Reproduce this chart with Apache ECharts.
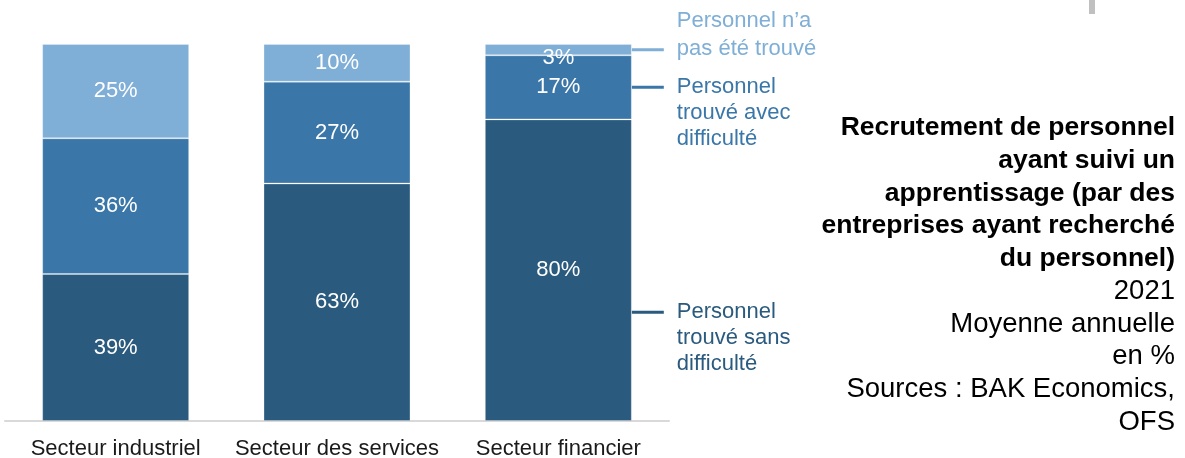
<!DOCTYPE html>
<html>
<head>
<meta charset="utf-8">
<script src="https://cdn.jsdelivr.net/npm/echarts@6/dist/echarts.min.js"></script>
<style>
  html, body { margin: 0; padding: 0; background: #fff; }
  #chart { width: 1185px; height: 458px; }
</style>
</head>
<body>
<div id="chart"></div>
<script>
// données
const categories = ['Secteur industriel', 'Secteur des services', 'Secteur financier'];
const sansDifficulte = [39, 63, 80];
const avecDifficulte = [36, 27, 17];
const pasTrouve = [25, 10, 3];

const seriesNames = [
    'Personnel\ntrouvé sans\ndifficulté',
    'Personnel\ntrouvé avec\ndifficulté',
    'Personnel n’a\npas été trouvé'
];
const titleText = 'Recrutement de personnel\nayant suivi un\napprentissage (par des\nentreprises ayant recherché\ndu personnel)';
const subText = '2021\nMoyenne annuelle\nen %\nSources : BAK Economics,\nOFS';

const colors = ['#2a5a7e', '#3a77a8', '#7faed6'];
const FONT = '"Liberation Sans", Arial, sans-serif';

const myChart = echarts.init(document.getElementById('chart'));

const barLabel = {
    show: true,
    position: 'inside',
    formatter: '{c}%',
    color: '#ffffff',
    fontFamily: FONT,
    fontSize: 22
};

// les petites valeurs ont leur étiquette un peu décalée vers le bas
const toItems = (data) => data.map(v => (v < 5 ? { value: v, label: { offset: [0, 8] } } : v));

const makeSeries = (name, data, color) => ({
    name: name,
    type: 'bar',
    stack: 'total',
    barWidth: '66.4%',
    data: toItems(data),
    label: barLabel,
    itemStyle: {
        color: color,
        borderColor: 'rgba(255,255,255,0.25)',
        borderWidth: 1
    },
    emphasis: { disabled: true }
});

const option = {
    animation: false,
    grid: {
        left: 5,
        right: 516,
        top: 44,
        bottom: 37,
        outerBoundsMode: 'none'
    },
    xAxis: {
        type: 'category',
        data: categories,
        axisTick: { show: false },
        axisLine: { lineStyle: { color: '#d9d9d9', width: 2 } },
        axisLabel: {
            interval: 0,
            hideOverlap: false,
            color: '#1a1a1a',
            fontFamily: FONT,
            fontSize: 22,
            margin: 17
        }
    },
    yAxis: {
        type: 'value',
        min: 0,
        max: 100,
        show: false
    },
    series: [
        makeSeries(seriesNames[0], sansDifficulte, colors[0]),
        makeSeries(seriesNames[1], avecDifficulte, colors[1]),
        makeSeries(seriesNames[2], pasTrouve, colors[2])
    ]
};

myChart.setOption(option);

// étiquettes à droite de la dernière barre + titre
const drawSideLabels = () => {
    const last = categories.length - 1;
    const c0 = myChart.convertToPixel({ gridIndex: 0 }, [0, 0])[0];
    const c1 = myChart.convertToPixel({ gridIndex: 0 }, [1, 0])[0];
    const cLast = myChart.convertToPixel({ gridIndex: 0 }, [last, 0])[0];
    const barRight = cLast + (c1 - c0) * 0.332;

    const stacks = [sansDifficulte, avecDifficulte, pasTrouve];
    const lineShift = [42, 0, 0];   // décalage du trait par rapport au centre
    const textShift = [0, 0, -29];  // position de la première ligne
    const lineH = [26, 26, 28];
    const clip = [117, 117, null];
    const elements = [];
    let base = 0;
    stacks.forEach((arr, i) => {
        const mid = base + arr[last] / 2;
        base += arr[last];
        const y = myChart.convertToPixel({ gridIndex: 0 }, [last, mid])[1] + lineShift[i];
        elements.push({
            type: 'line',
            shape: { x1: barRight, y1: y, x2: barRight + 32, y2: y },
            style: { stroke: colors[i], lineWidth: 3 }
        });
        const style = {
            text: seriesNames[i],
            x: barRight + 45,
            y: y + textShift[i] - lineH[i] / 2,
            fill: colors[i],
            font: '22px ' + FONT,
            lineHeight: lineH[i],
            verticalAlign: 'top'
        };
        if (clip[i]) {
            style.width = clip[i];
            style.overflow = 'truncate';
            style.ellipsis = '';
        }
        elements.push({ type: 'text', style: style });
    });

    // titre à droite
    const lh = 32.7;
    elements.push({
        type: 'text',
        style: {
            text: titleText,
            x: 1175,
            y: 128 - lh / 2,
            align: 'right',
            verticalAlign: 'top',
            fill: '#000000',
            font: 'bold 26.5px ' + FONT,
            lineHeight: lh
        }
    });
    elements.push({
        type: 'text',
        style: {
            text: subText,
            x: 1175,
            y: 128 + 5 * lh - lh / 2,
            align: 'right',
            verticalAlign: 'top',
            fill: '#000000',
            font: '27.5px ' + FONT,
            lineHeight: lh
        }
    });

    elements.push({
        type: 'rect',
        shape: { x: 1089, y: 0, width: 6, height: 14 },
        style: { fill: '#c0c0c0' }
    });

    myChart.setOption({ graphic: elements });
};

drawSideLabels();
</script>
</body>
</html>
